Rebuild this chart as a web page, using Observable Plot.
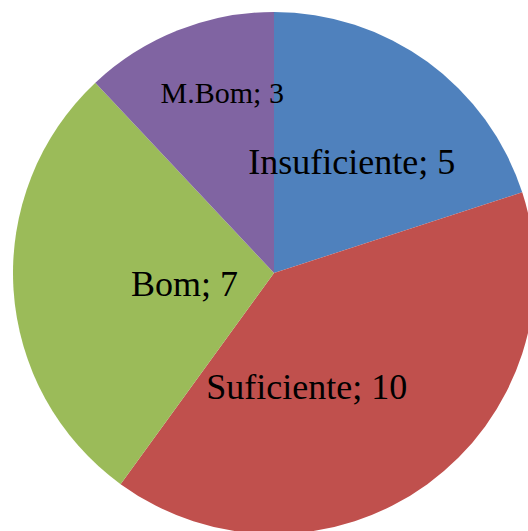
<!DOCTYPE html>
<html>
<head>
<meta charset="utf-8">
<script src="https://cdn.jsdelivr.net/npm/d3@7"></script>
<script src="https://cdn.jsdelivr.net/npm/@observablehq/plot@0.6"></script>
<style>
  html, body { margin: 0; padding: 0; background: #ffffff; }
  #chart { width: 528px; height: 531px; overflow: hidden; }
</style>
</head>
<body>
<div id="chart"></div>
<script>
// ---- data ----
const categories = ["Insuficiente", "Suficiente", "Bom", "M.Bom"];
const values = [5, 10, 7, 3];

// ---- style / layout ----
const colors = ["#4F81BD", "#C0504D", "#9BBB59", "#8064A2"];
const labelSizes = [36, 36, 36, 30];
const labelNudge = [[0.6, -5.3], [-44.4, 8.5], [40.2, 2.3], [-4.2, -58.5]]; // px from centroid
const R = 261; // radius in data units (1 unit = 1 px)

const rows = categories.map((c, i) => ({label: c, value: values[i]}));
const arcs = d3.pie().sort(null).value(d => d.value)(rows);
const colorScale = Plot.scale({color: {type: "ordinal", domain: categories, range: colors}});
const labelArc = d3.arc().innerRadius(0).outerRadius(R);

const labelRows = arcs.map((a, i) => {
  const [px, py] = labelArc.centroid(a);
  return {
    text: `${a.data.label}; ${a.data.value}`,
    x: px + labelNudge[i][0],
    y: -(py + labelNudge[i][1]),
    size: labelSizes[i]
  };
});

function pieMark(index, scales) {
  const cx = scales.x(0), cy = scales.y(0);
  const r = scales.x(R) - scales.x(0);
  const g = d3.create("svg:g").attr("transform", `translate(${cx},${cy})`);
  g.selectAll("path")
    .data(arcs)
    .join("path")
    .attr("d", d3.arc().innerRadius(0).outerRadius(r))
    .attr("fill", d => colorScale.apply(d.data.label));
  return g.node();
}

const opts = {
  width: 528,
  height: 531,
  margin: 0,
  style: {background: "#ffffff", fontFamily: "'Liberation Serif', 'Times New Roman', serif"},
  x: {domain: [-274, 254], axis: null},
  y: {domain: [-258, 273], axis: null}
};

let plot;
try {
  plot = Plot.plot({
    ...opts,
    marks: [
      pieMark,
      Plot.text(labelRows, {
        x: "x", y: "y", text: "text", fontSize: "size",
        fill: "#000000",
        fontFamily: "'Liberation Serif', 'Times New Roman', serif"
      })
    ]
  });
} catch (e) {
  plot = Plot.plot({
    ...opts,
    marks: [
      Plot.text(labelRows, {
        x: "x", y: "y", text: "text", fontSize: "size",
        fill: "#000000",
        fontFamily: "'Liberation Serif', 'Times New Roman', serif"
      })
    ]
  });
  const sx = plot.scale("x"), sy = plot.scale("y");
  const cx = sx.apply(0), cy = sy.apply(0), r = sx.apply(R) - sx.apply(0);
  const g = d3.select(plot).insert("g", ":first-child").attr("transform", `translate(${cx},${cy})`);
  g.selectAll("path").data(arcs).join("path")
    .attr("d", d3.arc().innerRadius(0).outerRadius(r))
    .attr("fill", d => colorScale.apply(d.data.label));
}
document.getElementById("chart").appendChild(plot);
</script>
</body>
</html>
